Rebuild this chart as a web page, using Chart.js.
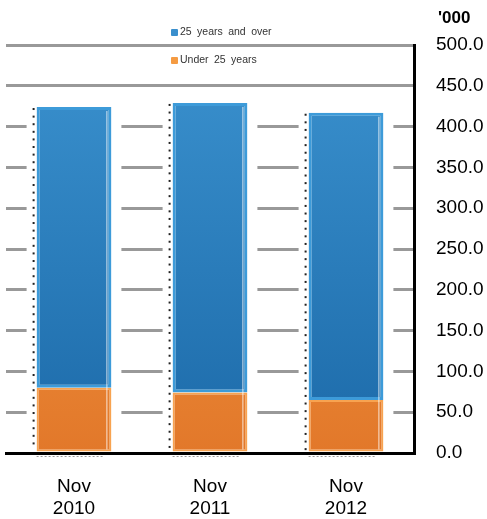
<!DOCTYPE html>
<html>
<head>
<meta charset="utf-8">
<script src="https://cdn.jsdelivr.net/npm/chart.js@4.4.0/dist/chart.umd.min.js"></script>
<style>
  body { margin: 0; background: #fff; }
  #wrap { position: relative; width: 487px; height: 519px; }
  .lg { position: absolute; left: 171px; font: 10.5px Arial, "Liberation Sans", sans-serif; color: #333; word-spacing: 2.5px; }
  .lg i { display: inline-block; width: 7px; height: 7px; margin-right: 2px; vertical-align: -1px; border-radius: 1px; }
  #unit { position: absolute; left: 438px; top: 8px; font: bold 17px Arial, "Liberation Sans", sans-serif; color: #000; }
</style>
</head>
<body>
<div id="wrap">
  <canvas id="graphAge" width="487" height="519"></canvas>
  <div class="lg" style="top:25px"><i style="background:#3a8fcd"></i>25 years and over</div>
  <div class="lg" style="top:53px"><i style="background:#f59b42"></i>Under 25 years</div>
  <div id="unit">'000</div>
</div>
<script>
// 연령별 인원 (단위 천명)
var periods = [['Nov', '2010'], ['Nov', '2011'], ['Nov', '2012']];
var under25 = [80, 74, 65];
var over25 = [344, 355, 352];
var yTicks = [0, 50, 100, 150, 200, 250, 300, 350, 400, 450, 500];

function grad(ctx, top, bottom) {
    var area = ctx.chart.chartArea;
    if (!area) return top;
    var g = ctx.chart.ctx.createLinearGradient(0, area.top, 0, area.bottom);
    g.addColorStop(0, top);
    g.addColorStop(1, bottom);
    return g;
}

// 막대 주변 흰 여백 + 점선
var barDeco = {
    id: 'barDeco',
    beforeDatasetsDraw: function(chart) {
        var c = chart.ctx;
        var top = chart.getDatasetMeta(1).data;
        chart.getDatasetMeta(0).data.forEach(function(bar, i) {
            var hw = bar.width / 2;
            c.save();
            c.fillStyle = '#fff';
            c.fillRect(bar.x - hw - 10, top[i].y - 8, bar.width + 20, bar.base - top[i].y + 6);
            c.restore();
        });
    },
    afterDatasetsDraw: function(chart) {
        var c = chart.ctx;
        var top = chart.getDatasetMeta(1).data;
        chart.getDatasetMeta(0).data.forEach(function(bar, i) {
            var hw = bar.width / 2;
            c.save();
            c.fillStyle = '#222';
            for (var y = top[i].y + 1; y < bar.base - 2; y += 7.6) {
                c.fillRect(bar.x - hw - 4, y, 2, 2);
            }
            c.strokeStyle = 'rgba(255,255,255,0.8)';
            c.lineWidth = 1;
            c.beginPath();
            c.moveTo(bar.x + hw - 4.5, top[i].y + 4);
            c.lineTo(bar.x + hw - 4.5, bar.base - 2);
            c.stroke();
            c.strokeStyle = '#999';
            c.setLineDash([2, 2]);
            c.beginPath();
            c.moveTo(bar.x - hw, bar.base + 5);
            c.lineTo(bar.x + hw - 8, bar.base + 5);
            c.stroke();
            c.restore();
        });
    }
};

var ctx = document.getElementById('graphAge').getContext('2d');
var myChart = new Chart(ctx, {
type: 'bar',
data: {
    labels: periods,
    datasets: [{
        label: 'Under 25 years',
        data: under25,
        backgroundColor: function(c) { return grad(c, '#f7a04a', '#e2782a'); },
        borderColor: '#f8a350',
        borderWidth: 2,
        borderSkipped: false
    }, {
        label: '25 years and over',
        data: over25,
        backgroundColor: function(c) { return grad(c, '#3b92cf', '#1c6aa9'); },
        borderColor: '#3d9bd9',
        borderWidth: 3,
        borderSkipped: false
    }]
},
options: {
    responsive: false,
    animation: false,
    layout: { padding: { left: 6, top: 45, right: 0, bottom: 0 } },
    plugins: {
        legend: { display: false },
        tooltip: { enabled: false }
    },
    barPercentage: 0.55,
    categoryPercentage: 1,
    scales: {
        x: {
            stacked: true,
            grid: { display: true, drawOnChartArea: false, drawTicks: false, color: 'transparent' },
            border: { display: true, color: '#000', width: 3 },
            ticks: { color: '#000', font: { family: 'Arial', size: 19, lineHeight: 1.15 }, padding: 23, maxRotation: 0 },
            afterFit: function(s) { s.height = 66; }
        },
        y: {
            stacked: true,
            position: 'right',
            min: 0,
            max: 500,
            afterBuildTicks: function(s) { s.ticks = yTicks.map(function(v) { return { value: v }; }); },
            grid: { color: '#999', lineWidth: 3, drawTicks: false },
            border: { display: true, color: '#000', width: 3 },
            ticks: {
                color: '#000',
                font: { family: 'Arial', size: 19 },
                padding: 22,
                callback: function(v) { return v.toFixed(1); }
            },
            afterFit: function(s) { s.width = 73; }
        }
    }
},
plugins: [barDeco]
});
</script>
</body>
</html>
